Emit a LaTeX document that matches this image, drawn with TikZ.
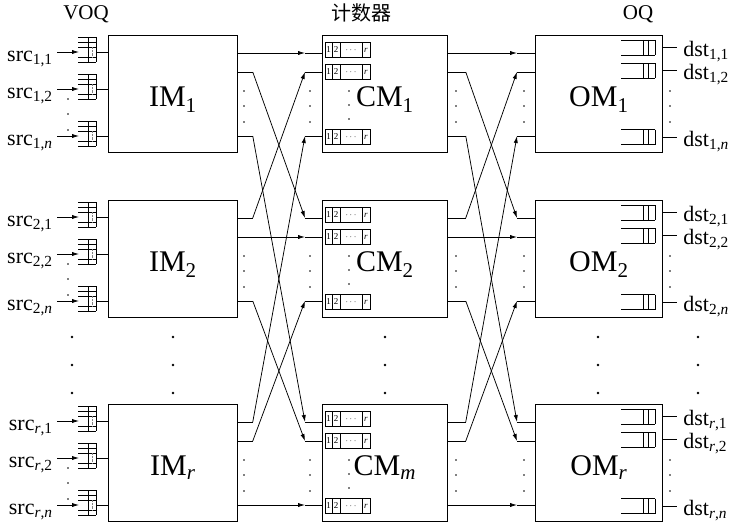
\documentclass[tikz,border=0pt]{standalone}
\usepackage{fontspec}
\setmainfont{Liberation Serif}
\newfontfamily\cjkfont{Noto Sans CJK SC}
\usetikzlibrary{arrows.meta,calc}
\begin{document}
\begin{tikzpicture}[x=1pt,y=-1pt,line width=0.75pt,
  arr/.style={-{Latex[length=7pt,width=4.2pt]}},
  modbox/.style={draw,rectangle,inner sep=0pt,anchor=north west,minimum height=117pt},
  modlbl/.style={font=\fontsize{30}{34}\selectfont,inner sep=0pt,anchor=base},
  iolbl/.style={font=\fontsize{22}{26}\selectfont,inner sep=0pt},
  hdr/.style={font=\fontsize{21}{25}\selectfont,inner sep=0pt,anchor=base},
  ctr/.style={font=\fontsize{9}{10}\selectfont,inner sep=0pt},
  voqglyph/.pic={
    \foreach \yy in {-15,-10,-5,5,10} \draw (-9,\yy) -- (9,\yy);
    \draw (1,-15) -- (1,10) (9,-15) -- (9,10);
    \draw[gray,densely dotted,line width=0.4pt] (5,-5) -- (5,5);
  },
  oqglyph/.pic={
    \draw (-17,-7.5) -- (17,-7.5) (-17,7.5) -- (17,7.5);
    \draw (5,-7.5) -- (5,7.5) (10,-7.5) -- (10,7.5) (17,-7.5) -- (17,7.5);
  },
  ctrglyph/.pic={
    \draw (-22.5,-7.5) rectangle (22.5,7.5);
    \draw (-15.5,-7.5) -- (-15.5,7.5) (-7.5,-7.5) -- (-7.5,7.5) (14.5,-7.5) -- (14.5,7.5);
    \node[ctr] at (-19,0) {1};
    \node[ctr] at (-11.5,0) {2};
    \node[ctr] at (3.5,0) {$\cdots$};
    \node[ctr] at (18.5,0) {\textit{r}};
  }
]
\useasboundingbox (0,0) rectangle (735,527);

% headers
\node[hdr] (voqh) at (86,20) {VOQ};
\node[hdr,font={\fontsize{20}{24}\selectfont\cjkfont}] (cnth) at (361,21) {计数器};
\node[hdr] (oqh) at (638,20) {OQ};

% rows
\foreach \i/\T/\s/\m in {1/35/1/1, 2/200/2/2, 3/404/{\textit{r}}/{\textit{m}}} {
  \node[modbox,minimum width=129pt] (IM\i) at (108,\T) {};
  \node[modbox,minimum width=125pt] (CM\i) at (322,\T) {};
  \node[modbox,minimum width=127pt] (OM\i) at (535,\T) {};
  \node[modlbl] (IMl\i) at ($(IM\i.center)+(0,13)$) {IM\textsubscript{\s}};
  \node[modlbl] (CMl\i) at ($(CM\i.center)+(0,13)$) {CM\textsubscript{\m}};
  \node[modlbl] (OMl\i) at ($(OM\i.center)+(0,13)$) {OM\textsubscript{\s}};
  % inputs
  \foreach \k/\q/\t in {1/17/1, 2/54/2, 3/101/{\textit{n}}} {
    \node[iolbl,anchor=base east] (src\i\k) at (53,\T+\q+9) {src\textsubscript{\s,\t}};
    \coordinate (sa\i\k) at (57,\T+\q);
    \coordinate (sb\i\k) at (79,\T+\q);
    \draw[arr] (sa\i\k) -- (sb\i\k);
    \pic at (87,\T+\q) {voqglyph};
    \coordinate (vr\i\k) at (96,\T+\q);
    \draw (vr\i\k) -- ($(IM\i.north west)+(0,\q)$);
  }
  % outputs
  \foreach \k/\q/\t in {1/12.5/1, 2/35.8/2, 3/102/{\textit{n}}} {
    \pic at (638,\T+\q) {oqglyph};
    \coordinate (do\i\k) at (677,\T+\q);
    \draw ($(OM\i.north east)+(0,\q)$) -- (do\i\k);
    \node[iolbl,anchor=base west] (dst\i\k) at (683,\T+\q+9) {dst\textsubscript{\s,\t}};
  }
  % counters
  \foreach \q in {15,37,102} {
    \pic at (347.5,\T+\q) {ctrglyph};
  }
  % small dots
  \foreach \yy in {64,79,95} \fill (68,\T+\yy) circle[radius=0.9pt];
  \foreach \yy in {56,71,87} {
    \fill (244,\T+\yy) circle[radius=0.9pt];
    \fill (310,\T+\yy) circle[radius=0.9pt];
    \fill (456,\T+\yy) circle[radius=0.9pt];
    \fill (524,\T+\yy) circle[radius=0.9pt];
    \fill (670,\T+\yy) circle[radius=0.9pt];
  }
  \foreach \yy in {56,70,84} \fill (349,\T+\yy) circle[radius=0.9pt];
}

% connections
\foreach \i in {1,2,3} {
  \foreach \j in {1,2,3} {
    \pgfmathsetmacro\pJ{{18,37,101}[\j-1]}
    \pgfmathsetmacro\pI{{18,37,101}[\i-1]}
    % IM i -> CM j
    \coordinate (imo) at ($(IM\i.north east)+(0,\pJ)$);
    \coordinate (cmi) at ($(CM\j.north west)+(0,\pI)$);
    \draw (imo) -- ++(15,0) coordinate (imb);
    \draw (cmi) -- ++(-17,0) coordinate (cmb);
    \draw[arr] (imb) -- (cmb);
    % CM i -> OM j
    \coordinate (cmo) at ($(CM\i.north east)+(0,\pJ)$);
    \coordinate (omi) at ($(OM\j.north west)+(0,\pI)$);
    \draw (cmo) -- ++(18,0) coordinate (cmob);
    \draw (omi) -- ++(-18,0) coordinate (omib);
    \draw[arr] (cmob) -- (omib);
  }
}

% big dots between rows
\foreach \xx in {72,173,385,598,698}
  \foreach \yy in {337,365,393}
    \fill (\xx,\yy) circle[radius=1.3pt];
\end{tikzpicture}
\end{document}
